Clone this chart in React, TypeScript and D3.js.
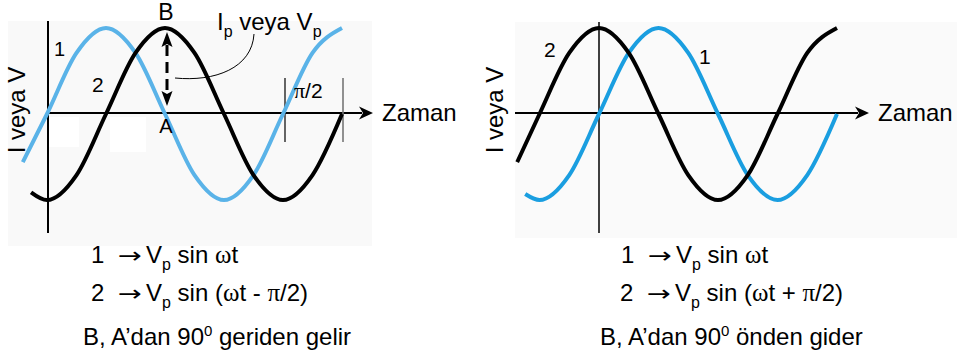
import React from "react";
import * as d3 from "d3";

// time in quarter-periods (π/2 units), value normalised to peak amplitude
const leftWave1: [number, number][] = [[-0.41, -0.56], [0, 0], [0.5, 0.71], [1, 1], [1.5, 0.71], [2, 0], [2.5, -0.71], [3, -1], [3.5, -0.71], [4, 0], [4.5, 0.71], [5, 1]];
const leftWave2: [number, number][] = [[-0.27, -0.91], [0, -1], [0.5, -0.71], [1, 0], [1.5, 0.71], [2, 1], [2.5, 0.71], [3, 0], [3.5, -0.71], [4, -1], [4.5, -0.71], [5, 0]];
const rightWave1: [number, number][] = [[-1.24, -0.93], [-1, -1], [-0.5, -0.71], [0, 0], [0.5, 0.71], [1, 1], [1.5, 0.71], [2, 0], [2.5, -0.71], [3, -1], [3.5, -0.71], [4, 0]];
const rightWave2: [number, number][] = [[-1.375, -0.56], [-1, 0], [-0.5, 0.71], [0, 1], [0.5, 0.71], [1, 0], [1.5, -0.71], [2, -1], [2.5, -0.71], [3, 0], [3.5, 0.71], [4, 1]];

const FONT = "'Liberation Sans', Arial, Helvetica, sans-serif";
const SERIF = "'Liberation Serif', 'Times New Roman', serif";
const BLUE_L = "#5ab3e8";
const BLUE_R = "#1a9ee0";

const yScale = d3.scaleLinear().domain([-1, 1]).range([200, 28]);
const xLeft = d3.scaleLinear().domain([0, 4]).range([47, 283]);
const xRight = d3.scaleLinear().domain([0, 4]).range([599, 837]);

function linePath(x: d3.ScaleLinear<number, number>, data: [number, number][]) {
  return d3
    .line<[number, number]>()
    .x((d) => x(d[0]))
    .y((d) => yScale(d[1]))
    .curve(d3.curveMonotoneX)(data) as string;
}

function Formula({ x, y, num, sign }: { x: number; y: number; num: string; sign?: string }) {
  return (
    <g>
      <text x={x} y={y} fontSize={24}>{num}</text>
      <text x={x + 27} y={y} fontSize={22} fontFamily="'DejaVu Sans', sans-serif" textLength={24} lengthAdjust="spacingAndGlyphs">→</text>
      <text x={x + 55} y={y} fontSize={24}>
        V<tspan fontSize={16} dy={7}>p</tspan>
        <tspan dy={-7}> sin </tspan>
        {sign ? <tspan>(</tspan> : null}
        <tspan fontFamily={SERIF} fontSize={25}>ω</tspan>
        <tspan>t</tspan>
        {sign ? (
          <>
            <tspan>{` ${sign} `}</tspan>
            <tspan fontFamily={SERIF} fontSize={25}>π</tspan>
            <tspan>/2)</tspan>
          </>
        ) : null}
      </text>
    </g>
  );
}

export default function App() {
  const y0 = 113;
  const axisArrow = (tip: number) =>
    `M${tip},${y0} L${tip - 14},${y0 - 6.5} L${tip - 10},${y0} L${tip - 14},${y0 + 6.5} Z`;
  const ax = 167;
  return (
    <svg width={957} height={363} style={{ position: "absolute", left: 0, top: 0, background: "#fff" }} fontFamily={FONT}>
      {/* faint backgrounds */}
      <rect x={8} y={21} width={364} height={225} fill="#f9f9f9" />
      <rect x={47} y={117} width={32} height={30} fill="#ffffff" />
      <rect x={110} y={117} width={36} height={35} fill="#ffffff" />
      <rect x={515} y={22} width={442} height={216} fill="#fafafa" />

      {/* LEFT PANEL */}
      <line x1={48} x2={48} y1={21} y2={233} stroke="#000" strokeWidth={2} />
      <line x1={48} x2={362} y1={y0} y2={y0} stroke="#000" strokeWidth={2} />
      <path d={axisArrow(373)} fill="#000" />
      <line x1={285} x2={285} y1={78} y2={142} stroke="#000" strokeWidth={1.2} />
      <line x1={343} x2={343} y1={78} y2={142} stroke="#777" strokeWidth={1.6} />
      <path d={linePath(xLeft, leftWave1)} fill="none" stroke={BLUE_L} strokeWidth={4} strokeLinecap="butt" />
      <path d={linePath(xLeft, leftWave2)} fill="none" stroke="#000" strokeWidth={4} strokeLinecap="butt" />

      {/* dashed double arrow */}
      <line x1={ax} x2={ax} y1={45} y2={95} stroke="#000" strokeWidth={3} strokeDasharray="11,6" />
      <path d={`M${ax},32 L${ax - 5.5},47 L${ax},44 L${ax + 5.5},47 Z`} fill="#000" />
      <path d={`M${ax},106 L${ax - 5.5},91 L${ax},94 L${ax + 5.5},91 Z`} fill="#000" />
      <path d="M175,78 C215,82 252,68 254,34" fill="none" stroke="#000" strokeWidth={1} />

      <text x={166} y={20} fontSize={23} textAnchor="middle">B</text>
      <text x={166} y={133} fontSize={20} textAnchor="middle">A</text>
      <text x={217} y={30} fontSize={24}>
        I<tspan fontSize={16} dy={7}>p</tspan><tspan dy={-7}> veya V</tspan><tspan fontSize={16} dy={7}>p</tspan>
      </text>
      <text x={54} y={56} fontSize={20}>1</text>
      <text x={92} y={92} fontSize={21}>2</text>
      <text x={294} y={98} fontSize={21}>
        <tspan fontFamily={SERIF} fontSize={22}>π</tspan>/2
      </text>
      <text transform="translate(25,110) rotate(-90)" fontSize={24} textAnchor="middle">I veya V</text>
      <text x={382} y={121} fontSize={24}>Zaman</text>

      <Formula x={91} y={263} num="1" />
      <Formula x={91} y={301} num="2" sign="-" />
      <text x={83} y={345} fontSize={24}>
        B, A’dan 90<tspan fontSize={15} dy={-9}>0</tspan><tspan dy={9}> geriden gelir</tspan>
      </text>

      {/* RIGHT PANEL */}
      <line x1={599} x2={599} y1={22} y2={233} stroke="#000" strokeWidth={1.5} />
      <line x1={515} x2={858} y1={y0} y2={y0} stroke="#000" strokeWidth={2} />
      <path d={axisArrow(869)} fill="#000" />
      <path d={linePath(xRight, rightWave1)} fill="none" stroke={BLUE_R} strokeWidth={4} />
      <path d={linePath(xRight, rightWave2)} fill="none" stroke="#000" strokeWidth={4} />
      <text x={544} y={57} fontSize={21}>2</text>
      <text x={699} y={64} fontSize={21}>1</text>
      <text transform="translate(503,110) rotate(-90)" fontSize={24} textAnchor="middle">I veya V</text>
      <text x={878} y={121} fontSize={24}>Zaman</text>

      <Formula x={621} y={263} num="1" />
      <Formula x={620} y={301} num="2" sign="+" />
      <text x={600} y={345} fontSize={24}>
        B, A’dan 90<tspan fontSize={15} dy={-9}>0</tspan><tspan dy={9}> önden gider</tspan>
      </text>
    </svg>
  );
}
